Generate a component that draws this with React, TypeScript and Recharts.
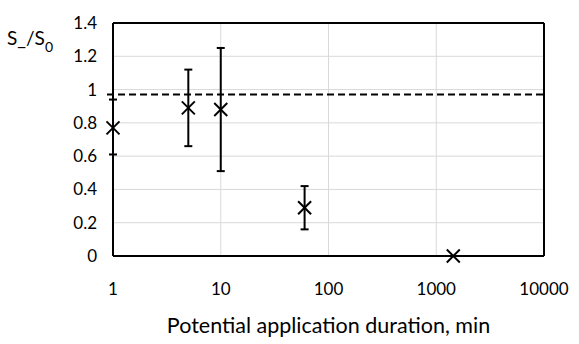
import React from 'react';
import { ScatterChart, Scatter, XAxis, YAxis, CartesianGrid, ErrorBar, ReferenceLine, Customized } from 'recharts';

const durations = [1, 5, 10, 60, 1440];
const ratios = [0.77, 0.89, 0.88, 0.29, 0];
const lowerBounds = [0.61, 0.66, 0.51, 0.16, 0];
const upperBounds = [0.94, 1.12, 1.25, 0.42, 0];
const xTicks = [1, 10, 100, 1000, 10000];
const yTicks = [0, 0.2, 0.4, 0.6, 0.8, 1, 1.2, 1.4];
const thresholdLevel = 0.97;

const data = durations.map((d, i) => ({
  x: d,
  y: ratios[i],
  err: [ratios[i] - lowerBounds[i], upperBounds[i] - ratios[i]],
}));

const FONT = 'Lato, "Open Sans", sans-serif';

const CrossShape = (props: any) => {
  const { cx, cy } = props;
  const h = 6.5;
  return (
    <g>
      <line x1={cx - h} y1={cy - h} x2={cx + h} y2={cy + h} stroke="#000" strokeWidth={2} />
      <line x1={cx - h} y1={cy + h} x2={cx + h} y2={cy - h} stroke="#000" strokeWidth={2} />
    </g>
  );
};

const YTitle = () => (
  <text x={7} y={45} fontFamily={FONT} fontSize={19} fill="#000">
    <tspan>S_/S</tspan>
    <tspan fontSize={14} dy={7}>0</tspan>
  </text>
);

export default function App() {
  return (
    <div style={{ position: 'absolute', left: 0, top: 0, width: 579, height: 344, background: '#fff' }}>
      <ScatterChart width={579} height={344} margin={{ top: 23, right: 35, bottom: 0, left: 0 }}>
        <CartesianGrid stroke="#d9d9d9" strokeWidth={1} />
        <XAxis
          type="number"
          dataKey="x"
          scale="log"
          domain={[1, 10000]}
          ticks={xTicks}
          axisLine={{ stroke: '#000', strokeWidth: 2 }}
          tickLine={false}
          tickSize={0}
          tickMargin={27}
          height={88}
          tick={{ fill: '#000', fontSize: 17, fontFamily: FONT }}
          label={{ value: 'Potential application duration, min', position: 'insideBottom', offset: 11, fill: '#000', fontSize: 21.5, fontFamily: FONT }}
        />
        <YAxis
          type="number"
          dataKey="y"
          domain={[0, 1.4]}
          ticks={yTicks}
          width={113}
          axisLine={{ stroke: '#000', strokeWidth: 2 }}
          tickLine={false}
          tickSize={0}
          tickMargin={16}
          tick={{ fill: '#000', fontSize: 17, fontFamily: FONT }}
        />
        <ReferenceLine y={1.4} stroke="#000" strokeWidth={2} />
        <ReferenceLine x={10000} stroke="#000" strokeWidth={2} />
        <ReferenceLine
          segment={[{ x: 0.88, y: thresholdLevel }, { x: 10000, y: thresholdLevel }]}
          ifOverflow="visible"
          stroke="#000"
          strokeWidth={2}
          strokeDasharray="7 4"
        />
        <Scatter data={data} shape={<CrossShape />} isAnimationActive={false}>
          <ErrorBar dataKey="err" direction="y" width={4} stroke="#000" strokeWidth={2} />
        </Scatter>
        <Customized component={YTitle} />
      </ScatterChart>
    </div>
  );
}
